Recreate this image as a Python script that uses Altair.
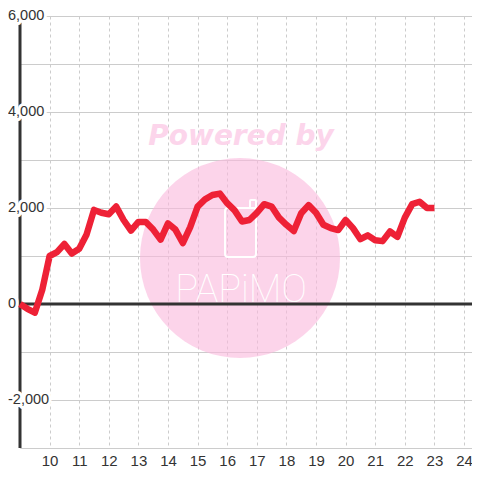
import altair as alt
import pandas as pd

# time of day (hours) at 15-minute steps, 9:00 to 23:00
hours = [9 + i * 0.25 for i in range(57)]
values = [
    0, -100, -180, 290, 1000, 1080, 1250, 1050, 1150, 1450, 1960, 1900,
    1870, 2030, 1750, 1530, 1710, 1710, 1550, 1340, 1680, 1550, 1270, 1600,
    2030, 2180, 2270, 2300, 2100, 1950, 1720, 1750, 1900, 2080, 2030, 1800,
    1650, 1520, 1890, 2060, 1900, 1650, 1580, 1540, 1750, 1580, 1350, 1430,
    1330, 1310, 1510, 1400, 1800, 2080, 2130, 2000, 2000,
]
x_ticks = list(range(10, 25))
y_labels = [-2000, 0, 2000, 4000, 6000]
y_label_text = ["-2,000", "0", "2,000", "4,000", "6,000"]
y_grid = list(range(-3000, 7000, 1000))

df = pd.DataFrame({"t": hours, "v": values})
dummy = pd.DataFrame({"a": [0]})
lab_df = pd.DataFrame({"v": y_labels, "txt": y_label_text})

x_enc = alt.X(
    "t:Q",
    scale=alt.Scale(domain=[9, 24.27], nice=False, zero=False),
    axis=alt.Axis(
        values=x_ticks, grid=True, gridDash=[3, 3], gridColor="#cccccc",
        domain=False, ticks=False, labelFontSize=15, labelColor="#333333",
        labelPadding=5, labelFont="Liberation Sans", title=None,
        labelFlush=False, format="d", labelOverlap=False,
    ),
)
y_enc = alt.Y(
    "v:Q",
    scale=alt.Scale(domain=[-3000, 6000], nice=False, zero=False),
    axis=alt.Axis(
        values=y_grid, grid=True, gridColor="#cccccc",
        domain=False, ticks=False, labels=False, title=None,
    ),
)

circle = alt.Chart(dummy).mark_circle(color="#FAB7DC", opacity=0.6).encode(
    x=alt.value(220), y=alt.value(242), size=alt.value(40000)
)
phone = alt.Chart(dummy).mark_rect(
    fillOpacity=0, stroke="white", strokeWidth=2, cornerRadius=3
).encode(x=alt.value(205), x2=alt.value(236), y=alt.value(192), y2=alt.value(241))
antenna = alt.Chart(dummy).mark_rect(
    fillOpacity=0, stroke="white", strokeWidth=2, cornerRadius=1
).encode(x=alt.value(230), x2=alt.value(236), y=alt.value(184), y2=alt.value(192))
papimo = alt.Chart(dummy).mark_text(
    text="PAPiMO", color="white", font="Roboto", fontWeight=100,
    fontSize=38, baseline="middle", align="center",
).encode(x=alt.value(221), y=alt.value(275))
powered = alt.Chart(dummy).mark_text(
    text="Powered by", color="#FCD5EB", font="DejaVu Sans", fontWeight="bold",
    fontStyle="italic", fontSize=28, baseline="alphabetic", align="center",
).encode(x=alt.value(221), y=alt.value(129))

zero = alt.Chart(pd.DataFrame({"v": [0]})).mark_rule(
    color="#333333", strokeWidth=3
).encode(y="v:Q")
y_axis_line = alt.Chart(dummy).mark_rule(color="#333333", strokeWidth=3).encode(
    x=alt.value(0), y=alt.value(0), y2=alt.value(432)
)
halo = alt.Chart(lab_df).mark_text(
    align="left", baseline="middle", fontSize=14.5, font="Liberation Sans",
    color="white", stroke="white", strokeWidth=6, strokeJoin="round",
).encode(x=alt.value(-12), y="v:Q", text="txt:N")
labels = alt.Chart(lab_df).mark_text(
    align="left", baseline="middle", fontSize=14.5, font="Liberation Sans",
    color="#333333",
).encode(x=alt.value(-12), y="v:Q", text="txt:N")

line = alt.Chart(df).mark_line(
    color="#EE2136", strokeWidth=6.5, strokeJoin="round", strokeCap="butt"
).encode(x=x_enc, y=y_enc)

chart = (
    alt.layer(circle, phone, antenna, papimo, powered, zero, y_axis_line,
              halo, labels, line)
    .properties(
        width=452, height=432,
        autosize=alt.AutoSizeParams(type="none"),
        padding={"left": 12, "top": 8, "right": 0, "bottom": 24},
    )
    .configure_view(strokeWidth=0)
    .configure(background="white")
)

chart.save("out.html", embed_options={"renderer": "svg", "actions": False})
